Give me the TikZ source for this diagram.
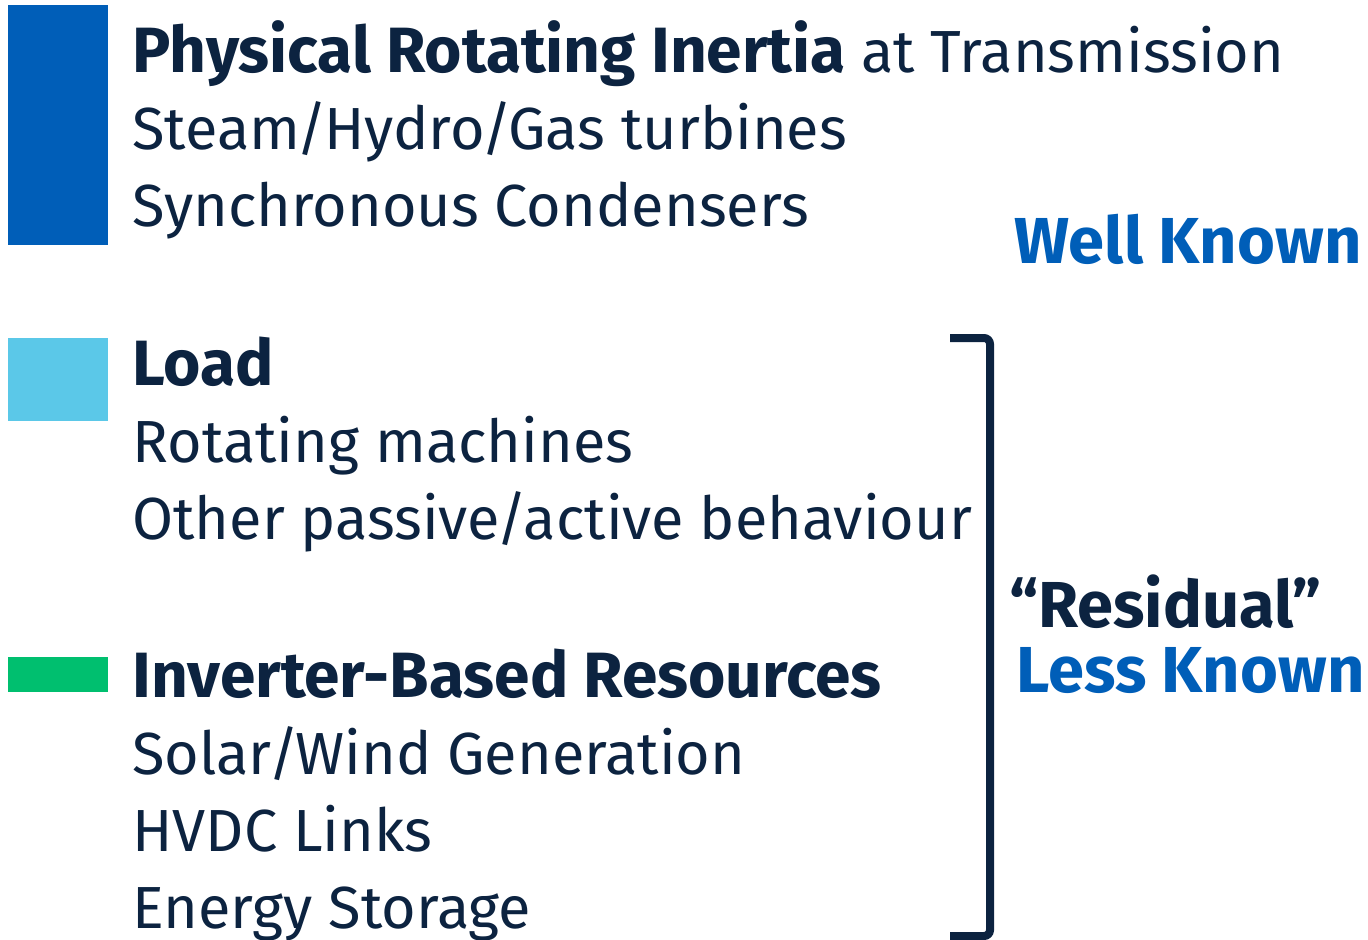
\documentclass[tikz,border=0pt]{standalone}
\usepackage{fontspec}
\setmainfont{Fira Sans}
\usetikzlibrary{positioning}
\definecolor{navy}{HTML}{0C2340}
\definecolor{geblue}{HTML}{005EB8}
\definecolor{skyblue}{HTML}{5BC8E8}
\definecolor{gegreen}{HTML}{00BF6F}
\newcommand\hd[1]{{\fontsize{32}{32}\selectfont\bfseries #1}}
\newcommand\sla{\kern-1.8pt/\kern-1.8pt}

\begin{document}
\begin{tikzpicture}[x=0.5pt,y=-0.5pt,
    txt/.style={anchor=base west,inner sep=0pt,text=navy,font=\fontsize{29.7}{30}\selectfont},
    tag/.style={anchor=base east,inner sep=0pt,font=\fontsize{32.5}{32.5}\selectfont\bfseries}]
      \useasboundingbox (0,0) rectangle (1368,939);

      % bars
      \fill[geblue] (8,5) rectangle (108,245);
      \fill[skyblue] (8,338) rectangle (108,421);
      \fill[gegreen] (8,657) rectangle (108,692);

      % rotating inertia
      \node[txt] (phys) at (132,72) {\hd{Physical Rotating Inertia} at Transmission};
      \foreach \j/\t in {1/{Steam\sla Hydro\sla Gas turbines},2/Synchronous Condensers}
      { \node[txt] (phys\j) at (132,72+77*\j) {\t}; }

      % load
      \node[txt] (load) at (132,385) {\hd{Load}};
      \foreach \j/\t in {1/Rotating machines,2/{Other passive\sla active behaviour}}
      { \node[txt] (load\j) at (132,385+77*\j) {\t}; }

      % ibr
      \node[txt] (ibr) at (132,697) {\hd{Inverter-Based Resources}};
      \foreach \j/\t in {1/{Solar\sla Wind Generation},2/HVDC Links,3/Energy Storage}
      { \node[txt] (ibr\j) at (132,697+77*\j) {\t}; }

      % bracket
      \path (950,338) coordinate (b1) (990,338) coordinate (b2)
            (990,936) coordinate (b3) (950,936) coordinate (b4);
      \draw[navy,line width=4pt,rounded corners=3pt] (b1) -- (b2) -- (b3) -- (b4);

      % tags
      \node[tag,text=geblue] (well) at (1362,263) {Well Known};
      \node[tag,text=navy] (resid) at (1322,627) {“Residual”};
      \node[tag,text=geblue] (less) at (1365,692) {Less Known};
\end{tikzpicture}
\end{document}
